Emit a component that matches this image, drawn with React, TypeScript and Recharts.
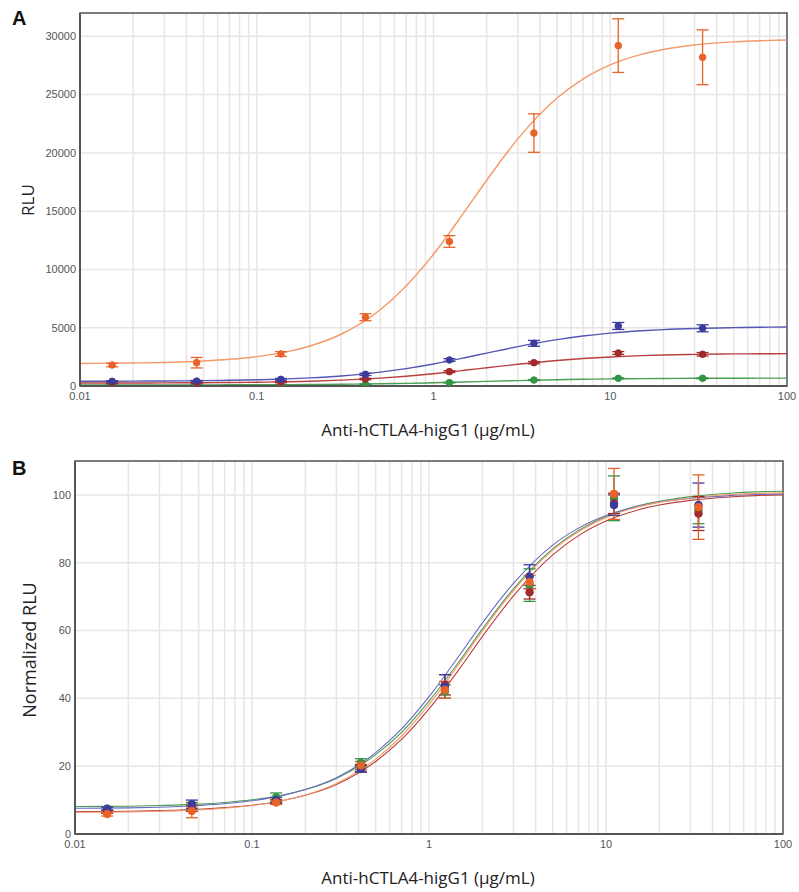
import React from "react";
import {
  ComposedChart,
  Line,
  Scatter,
  ErrorBar,
  XAxis,
  YAxis,
  CartesianGrid,
  ReferenceArea,
} from "recharts";

// ---------- data ----------
const conc = [0.0152, 0.0457, 0.137, 0.412, 1.23, 3.7, 11.1, 33.3];
const curveX = [0.01, 0.02, 0.03, 0.05, 0.07, 0.1, 0.15, 0.2, 0.3, 0.5, 0.7, 1, 1.5, 2, 3, 5, 7, 10, 15, 20, 30, 50, 70, 100];

const xTicks = [
  0.01, 0.02, 0.03, 0.04, 0.05, 0.06, 0.07, 0.08, 0.09,
  0.1, 0.2, 0.3, 0.4, 0.5, 0.6, 0.7, 0.8, 0.9,
  1, 2, 3, 4, 5, 6, 7, 8, 9,
  10, 20, 30, 40, 50, 60, 70, 80, 90, 100,
];
const xTickLabels: Record<string, string> = { "0.01": "0.01", "0.1": "0.1", "1": "1", "10": "10", "100": "100" };

const yTicksA = [0, 5000, 10000, 15000, 20000, 25000, 30000];
const yTicksB = [0, 20, 40, 60, 80, 100];

// Panel A: RLU points
const orangeA = [1800, 2000, 2750, 5900, 12400, 21700, 29200, 28200];
const orangeAErr = [150, 450, 200, 300, 500, 1650, 2300, 2350];
const blueA = [400, 420, 570, 1000, 2230, 3660, 5150, 4950];
const blueAErr = [60, 60, 80, 100, 120, 250, 300, 300];
const redA = [250, 260, 330, 600, 1230, 2000, 2830, 2720];
const redAErr = [40, 40, 50, 60, 80, 100, 120, 150];
const greenA = [90, 90, 100, 150, 290, 510, 660, 660];
const greenAErr = [20, 20, 20, 30, 30, 40, 40, 40];

// Panel A: fitted curves (read at curveX)
const orangeACurve = [1930, 1970, 2020, 2150, 2290, 2520, 2950, 3430, 4440, 6540, 8580, 11300, 14960, 17650, 21200, 24700, 26330, 27550, 28450, 28870, 29260, 29520, 29620, 29690];
const blueACurve = [409, 420, 432, 459, 488, 534, 613, 696, 863, 1188, 1490, 1887, 2420, 2822, 3378, 3980, 4287, 4537, 4737, 4837, 4934, 5009, 5039, 5060];
const redACurve = [255, 261, 267, 282, 298, 322, 366, 410, 501, 678, 842, 1056, 1347, 1563, 1867, 2193, 2359, 2494, 2604, 2657, 2711, 2752, 2767, 2778];
const greenACurve = [91, 92, 94, 97, 101, 107, 117, 127, 148, 189, 227, 276, 344, 394, 464, 540, 578, 609, 635, 647, 659, 669, 672, 675];

// Panel B: normalized points
const orangeB = [5.9, 6.8, 9.3, 20.2, 42.5, 74.3, 100.3, 96.4];
const orangeBErr = [0.6, 2.0, 0.6, 1.2, 2.5, 2.0, 7.5, 9.5];
const redB = [6.6, 7.5, 9.6, 19.5, 44.0, 71.3, 97.5, 94.5];
const redBErr = [0.5, 0.8, 0.6, 1.0, 3.0, 2.0, 3.0, 5.0];
const blueB = [7.4, 8.8, 10.0, 19.2, 43.5, 75.9, 97.0, 97.0];
const blueBErr = [0.5, 1.2, 0.8, 1.0, 3.5, 3.5, 3.0, 6.5];
const greenB = [7.5, 8.3, 10.8, 21.0, 42.0, 73.4, 99.0, 95.5];
const greenBErr = [0.5, 1.0, 1.3, 1.2, 2.0, 4.8, 6.6, 4.0];

// Panel B: fitted curves
const orangeBCurve = [6.4, 6.5, 6.7, 7.1, 7.6, 8.4, 9.9, 11.5, 14.9, 22.1, 28.9, 38.2, 50.6, 59.8, 71.8, 83.7, 89.2, 93.3, 96.4, 97.8, 99.1, 100.1, 100.4, 100.6];
const redBCurve = [6.6, 6.7, 6.9, 7.3, 7.8, 8.5, 9.9, 11.4, 14.6, 21.4, 27.9, 36.9, 49.0, 58.2, 70.2, 82.3, 88.0, 92.3, 95.5, 97.0, 98.4, 99.4, 99.8, 100.0];
const blueBCurve = [7.6, 7.7, 7.9, 8.4, 8.9, 9.8, 11.4, 13.1, 16.6, 24.0, 31.0, 40.5, 53.0, 62.2, 73.9, 85.2, 90.2, 93.9, 96.6, 97.9, 99.0, 99.8, 100.1, 100.3];
const greenBCurve = [8.1, 8.2, 8.4, 8.8, 9.3, 10.1, 11.5, 13.1, 16.4, 23.4, 30.0, 39.2, 51.3, 60.4, 72.3, 84.1, 89.5, 93.6, 96.7, 98.1, 99.5, 100.5, 100.9, 101.1];

// ---------- helpers ----------
const pts = (vals: number[], errs: number[]) => conc.map((x, i) => ({ x, y: vals[i], e: errs[i] }));
const curve = (vals: number[]) => curveX.map((x, i) => ({ x, y: vals[i] }));

const COLORS = {
  orangePt: "#e8622a",
  orangeLn: "#f39a68",
  bluePt: "#3c3c9e",
  blueLn: "#5656b6",
  redPt: "#a32a2a",
  redLn: "#b84040",
  greenPt: "#359445",
  greenLn: "#4a9e56",
};

const tickStyle = { fontSize: 11, fill: "#555", fontFamily: "Liberation Sans, Arial, sans-serif" };
const titleFont = "'Open Sans', sans-serif";

const dotShape = (color: string, r: number) => (p: any) =>
  p.cx == null ? <g /> : <circle cx={p.cx} cy={p.cy} r={r} fill={color} stroke={color} />;

type Series = { pts: any[]; curve: any[]; pt: string; ln: string };

function Panel({
  width, height, margin, yAxisWidth, yDomain, yTicks, series, r, lw,
}: {
  width: number; height: number; margin: any; yAxisWidth: number; yDomain: [number, number]; yTicks: number[]; series: Series[]; r: number; lw: number;
}) {
  return (
    <ComposedChart width={width} height={height} margin={margin}>
      <CartesianGrid stroke="#e8e5e4" strokeWidth={1.5} />
      <XAxis
        dataKey="x"
        type="number"
        scale="log"
        domain={[0.01, 100]}
        ticks={xTicks}
        interval={0}
        allowDataOverflow
        tickFormatter={(v: number) => xTickLabels[String(v)] ?? ""}
        tick={tickStyle}
        tickLine={false}
        tickSize={4}
        tickMargin={2}
        axisLine={{ stroke: "#555", strokeWidth: 2 }}
        height={30}
      />
      <YAxis
        type="number"
        domain={yDomain}
        ticks={yTicks}
        interval={0}
        allowDataOverflow
        tick={tickStyle}
        tickLine={false}
        tickSize={2}
        tickMargin={2}
        axisLine={{ stroke: "#555", strokeWidth: 2 }}
        width={yAxisWidth}
      />
      <ReferenceArea x1={0.01} x2={100} y1={yDomain[0]} y2={yDomain[1]} fill="none" stroke="#5a5a5a" strokeWidth={1.5} ifOverflow="visible" />
      {series.map((s, i) => (
        <Line
          key={"l" + i}
          data={s.curve}
          dataKey="y"
          type="monotone"
          stroke={s.ln}
          strokeWidth={lw}
          dot={false}
          activeDot={false}
          isAnimationActive={false}
        />
      ))}
      {series.map((s, i) => (
        <Scatter key={"s" + i} data={s.pts} dataKey="y" fill={s.pt} shape={dotShape(s.pt, r)} isAnimationActive={false}>
          <ErrorBar dataKey="e" direction="y" width={6} stroke={s.pt} strokeWidth={1.3} />
        </Scatter>
      ))}
    </ComposedChart>
  );
}

export default function App() {
  const seriesA: Series[] = [
    { pts: pts(greenA, greenAErr), curve: curve(greenACurve), pt: COLORS.greenPt, ln: COLORS.greenLn },
    { pts: pts(redA, redAErr), curve: curve(redACurve), pt: COLORS.redPt, ln: COLORS.redLn },
    { pts: pts(blueA, blueAErr), curve: curve(blueACurve), pt: COLORS.bluePt, ln: COLORS.blueLn },
    { pts: pts(orangeA, orangeAErr), curve: curve(orangeACurve), pt: COLORS.orangePt, ln: COLORS.orangeLn },
  ];
  const seriesB: Series[] = [
    { pts: pts(greenB, greenBErr), curve: curve(greenBCurve), pt: COLORS.greenPt, ln: COLORS.greenLn },
    { pts: pts(redB, redBErr), curve: curve(redBCurve), pt: COLORS.redPt, ln: COLORS.redLn },
    { pts: pts(blueB, blueBErr), curve: curve(blueBCurve), pt: COLORS.bluePt, ln: "#6a6ac4" },
    { pts: pts(orangeB, orangeBErr), curve: curve(orangeBCurve), pt: COLORS.orangePt, ln: COLORS.orangeLn },
  ];

  const abs = (s: any) => ({ position: "absolute" as const, ...s });

  return (
    <div style={abs({ left: 0, top: 0, width: 799, height: 892, background: "#fff", overflow: "hidden" })}>
      <div style={abs({ left: 0, top: 0 })}>
        <Panel
          width={799}
          height={420}
          margin={{ top: 13, right: 12, left: 0, bottom: 4 }}
          yAxisWidth={80}
          yDomain={[0, 32000]}
          yTicks={yTicksA}
          series={seriesA}
          r={3.3}
          lw={1.4}
        />
      </div>
      <div style={abs({ left: 0, top: 440 })}>
        <Panel
          width={799}
          height={452}
          margin={{ top: 21, right: 16, left: 0, bottom: 28 }}
          yAxisWidth={75}
          yDomain={[0, 110]}
          yTicks={yTicksB}
          series={seriesB}
          r={3.8}
          lw={1.1}
        />
      </div>

      <div style={abs({ left: 12, top: 7, fontFamily: "Liberation Sans, Arial, sans-serif", fontWeight: 700, fontSize: 20, color: "#111" })}>A</div>
      <div style={abs({ left: 12, top: 457, fontFamily: "Liberation Sans, Arial, sans-serif", fontWeight: 700, fontSize: 20, color: "#111" })}>B</div>

      <div style={abs({ left: 228, width: 400, top: 418, textAlign: "center", fontFamily: titleFont, fontSize: 17, color: "#222" })}>
        Anti-hCTLA4-higG1 (μg/mL)
      </div>
      <div style={abs({ left: 228, width: 400, top: 866, textAlign: "center", fontFamily: titleFont, fontSize: 17, color: "#222" })}>
        Anti-hCTLA4-higG1 (μg/mL)
      </div>

      <div style={abs({ left: 27, top: 200, width: 0, height: 0 })}>
        <div style={{ position: "absolute", transform: "translate(-50%, -50%) rotate(-90deg)", whiteSpace: "nowrap", fontFamily: titleFont, fontSize: 17, color: "#222" }}>RLU</div>
      </div>
      <div style={abs({ left: 29, top: 650, width: 0, height: 0 })}>
        <div style={{ position: "absolute", transform: "translate(-50%, -50%) rotate(-90deg)", whiteSpace: "nowrap", fontFamily: titleFont, fontSize: 18, color: "#222" }}>Normalized RLU</div>
      </div>
    </div>
  );
}
